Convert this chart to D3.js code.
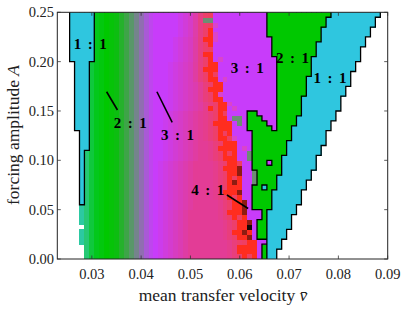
<!DOCTYPE html>
<html><head><meta charset="utf-8">
<script src="https://cdnjs.cloudflare.com/ajax/libs/d3/7.8.5/d3.min.js"></script>
<style>body{margin:0;background:#fff}svg{display:block}</style>
</head><body>
<svg id="chart" width="407" height="309"></svg>
<script>
// ---------------- data ----------------
const vDomain = [0.023, 0.09];
const aDomain = [0, 0.25];
const xTicks = [0.03, 0.04, 0.05, 0.06, 0.07, 0.08, 0.09];
const yTicks = [0, 0.05, 0.10, 0.15, 0.20, 0.25];
const colFirst = 0.023, colStep = 0.001, nCols = 68;   // velocity grid
const rowStep = 0.005, nRows = 50;                        // amplitude grid

// runs: [rowFrom, rowTo, values...]  (row r covers A in [0.005r, 0.005(r+1)])
const leftTongueRuns = [[11,21,0.0275,0.0285],[22,25,0.0275,0.0295],[26,39,0.0265,0.0295],[40,49,0.0255,0.0305]];
const dataStartRuns  = [[0,21,0.0285],[22,39,0.0295],[40,49,0.0305]];
const tealCells      = [[0.028,3],[0.028,4],[0.028,5],[0.028,7],[0.028,8],[0.028,9],[0.028,10]];
const cyanRightRuns  = [[0,1,0.0675],[2,3,0.0685],[4,5,0.0695],[6,8,0.0705],[9,10,0.0715],[11,13,0.0725],[14,15,0.0735],[16,17,0.0745],[18,20,0.0755],[21,22,0.0765],[23,25,0.0775],[26,27,0.0785],[28,29,0.0795],[30,32,0.0805],[33,34,0.0815],[35,37,0.0825],[38,39,0.0835],[40,42,0.0845],[43,44,0.0855],[45,46,0.0865],[47,48,0.0875],[49,49,0.0885]];
const cyanLeftRuns   = [[0,9,0.0655],[10,13,0.0665],[14,16,0.0675],[17,20,0.0685],[21,23,0.0695],[24,26,0.0705],[27,28,0.0715],[29,32,0.0725],[33,36,0.0735],[37,40,0.0745],[41,43,0.0755],[44,46,0.0765],[47,48,0.0775],[49,49,0.0785]];
const greenLeftRuns  = [[0,2,0.0645],[3,3,0.0655],[4,9,0.0635],[10,14,0.0625],[15,17,0.0635],[18,25,0.0625],[26,29,0.0615],[30,40,0.0675],[41,44,0.0665],[45,49,0.0655]];
const tongue3Runs    = [[26,26,0.0665,0.0675],[27,27,0.0655,0.0675],[28,28,0.0645,0.0675],[29,29,0.0635,0.0675]];
const mixStartRuns   = [[0,19,0.043],[20,29,0.044],[30,39,0.045],[40,44,0.046],[45,49,0.047]];
const mixEndRuns     = [[0,9,0.050],[10,19,0.051],[20,29,0.052],[30,49,0.053]];
const redStartRuns   = [[0,3,0.0605],[4,7,0.0595],[8,11,0.0585],[12,19,0.0575],[20,23,0.0565],[24,31,0.0555],[32,35,0.0545],[36,49,0.0535]];
const redEndRuns     = [[0,3,0.0635],[4,7,0.0625],[8,11,0.0615],[12,19,0.0605],[20,23,0.0595],[24,27,0.0585],[28,31,0.0575],[32,35,0.0565],[36,39,0.0555],[40,49,0.0545]];
const baseStopV      = [0.029, 0.0305, 0.033, 0.035, 0.037, 0.0385, 0.0395, 0.041, 0.0425];
const baseStopColor  = ['#26c874','#04c822','#00c800','#0cbe10','#3ea448','#66907a','#84789e','#a95ad6','#c83cfa'];
// special cells [v, row, kind]
const specialCells = [
  [0.053,48,'grey'],[0.054,48,'grey'],[0.059,28,'grey'],[0.060,28,'grey'],[0.060,27,'grey'],
  [0.062,20,'grey'],[0.062,21,'grey'],[0.063,15,'grey'],[0.063,16,'grey'],[0.063,17,'grey'],
  [0.059,15,'dark'],[0.060,13,'dark'],[0.060,17,'dark'],[0.060,18,'dark'],[0.061,11,'dark'],
  [0.061,10,'dark'],[0.061,9,'dark'],[0.061,5,'dark'],[0.062,4,'dark'],[0.062,7,'dark'],
  [0.062,6,'black'],
  [0.053,44,'red'],[0.053,41,'red'],[0.053,38,'red'],[0.054,34,'red'],
  [0.054,30,'red'],[0.055,27,'red'],[0.056,22,'red'],[0.057,18,'red'],[0.057,13,'red'],
  [0.058,9,'red'],[0.059,5,'red'],[0.060,1,'red'],[0.060,2,'red'],
  [0.054,47,'salmon'],[0.054,49,'salmon'],[0.054,42,'salmon'],[0.055,37,'salmon'],[0.056,33,'salmon'],
  [0.057,29,'salmon'],[0.057,25,'salmon'],[0.058,21,'salmon'],[0.059,16,'salmon'],[0.059,12,'salmon'],
  [0.060,8,'salmon'],[0.061,3,'salmon'],[0.062,0,'salmon'],[0.058,24,'salmon'],[0.060,19,'salmon'],
  [0.055,44,'mauve'],[0.056,40,'mauve'],[0.057,36,'mauve'],[0.058,31,'mauve'],[0.059,30,'mauve'],
  [0.059,24,'mauve'],[0.061,22,'mauve'],[0.056,33,'mauve'],[0.055,47,'mauve'],[0.055,45,'mauve'],
  [0.066,19,'purple'],[0.064,8,'purple'],[0.064,9,'purple'],[0.065,14,'cyan']
];
// annotations: [text, v, A] ; leader lines: [v1, A1, v2, A2]
const labels = [['1 : 1',0.0297,0.2128],['2 : 1',0.0378,0.1327],['3 : 1',0.0474,0.1206],
  ['3 : 1',0.0615,0.1885],['2 : 1',0.0707,0.1986],['1 : 1',0.0783,0.1784],['4 : 1',0.0535,0.0649]];
const leaders = [[0.0330,0.1695,0.0352,0.1510],[0.0432,0.1695,0.0463,0.1385],[0.0574,0.0649,0.0617,0.0512]];

// ---------------- drawing ----------------
const C = {cyan:'#2fc6df', green:'#00c800', purple:'#c83cfa', pink:'#e33c96', salmon:'#ef3f62',
  red:'#ff2d1f', dark:'#8e1c12', black:'#140805', grey:'#6c8e74', teal:'#2cc9a2', mauve:'#d944cc'};
const svg = d3.select('#chart');
const x = d3.scaleLinear().domain(vDomain).range([57.3, 387.7]);
const y = d3.scaleLinear().domain(aDomain).range([259, 12.3]);
const baseColor = d3.scaleLinear().domain(baseStopV).range(baseStopColor).interpolate(d3.interpolateRgb).clamp(true);

function rowsOf(runs){ const out = new Array(nRows).fill(null);
  runs.forEach(r => { for (let i=r[0]; i<=r[1]; i++) out[i] = r.length===3 ? r[2] : r.slice(2); }); return out; }
const LT = rowsOf(leftTongueRuns), DS = rowsOf(dataStartRuns), CR = rowsOf(cyanRightRuns),
  CL = rowsOf(cyanLeftRuns), GL = rowsOf(greenLeftRuns), T3 = rowsOf(tongue3Runs),
  MS = rowsOf(mixStartRuns), ME = rowsOf(mixEndRuns), RS = rowsOf(redStartRuns), RE = rowsOf(redEndRuns);
const key = (c,r) => c+'_'+r;
const colOf = v => Math.round((v - colFirst)/colStep);
const special = new Map(specialCells.map(d => [key(colOf(d[0]), d[1]), d[2]]));
const teal = new Set(tealCells.map(d => key(colOf(d[0]), d[1])));
const clamp01 = t => Math.max(0, Math.min(1, t));

const cells = []; const cls = [];
for (let r=0; r<nRows; r++){
  cls.push([]);
  for (let c=0; c<nCols; c++){
    const v = colFirst + c*colStep;
    let k = 3, col = null;
    if (LT[r] && v > LT[r][0] && v < LT[r][1]) { k = 1; col = C.cyan; }
    else if (v < DS[r]) { if (teal.has(key(c,r))) { k = 4; col = C.teal; } else { k = 0; } }
    else if (v > CR[r]) { k = 0; }
    else if (v > CL[r]) { k = 1; col = C.cyan; }
    else if (v > GL[r]) {
      if (T3[r] && v > T3[r][0] && v < T3[r][1]) { k = 3; col = C.purple; } else { k = 2; col = C.green; }
    } else {
      k = 3;
      if (v > RE[r]) col = C.purple;
      else if (v > RS[r]) col = C.red;
      else {
        const t1 = clamp01((v - MS[r])/(ME[r]-MS[r]));
        col = d3.interpolateRgb(baseColor(v), C.pink)(t1);
        const t2 = clamp01((v - (RS[r] - 0.003))/0.003);
        if (t2 > 0) col = d3.interpolateRgb(col, C.salmon)(t2);
      }
    }
    const s = special.get(key(c,r));
    if (s && k !== 0) { col = C[s]; k = (s === 'cyan') ? 1 : 3; }
    cls[r].push(k);
    if (col) cells.push({v, r, col});
  }
}

svg.append('defs').append('clipPath').attr('id','clip').append('rect')
  .attr('x', x(vDomain[0])).attr('y', y(aDomain[1])).attr('width', x(vDomain[1])-x(vDomain[0])).attr('height', y(aDomain[0])-y(aDomain[1]));
const plot = svg.append('g').attr('clip-path','url(#clip)');
plot.append('g').attr('shape-rendering','crispEdges').selectAll('rect').data(cells).join('rect')
  .attr('x', d => x(d.v - colStep/2)).attr('y', d => y((d.r+1)*rowStep))
  .attr('width', d => x(d.v + colStep/2) - x(d.v - colStep/2) + 0.4)
  .attr('height', d => y(d.r*rowStep) - y((d.r+1)*rowStep) + 0.4)
  .attr('fill', d => d.col);

// outlines of locked (1:1, 2:1) regions
const locked = k => k === 1 || k === 2;
let p = '';
for (let r=0; r<nRows; r++) for (let c=0; c<nCols; c++){
  const a = cls[r][c];
  const vR = colFirst + (c+0.5)*colStep;
  if (c+1 < nCols){ const b = cls[r][c+1];
    if (a !== b && (locked(a)||locked(b))) p += `M${x(vR)},${y(r*rowStep)}L${x(vR)},${y((r+1)*rowStep)}`; }
  if (r+1 < nRows){ const b = cls[r+1][c];
    if (a !== b && (locked(a)||locked(b))) p += `M${x(vR-colStep)},${y((r+1)*rowStep)}L${x(vR)},${y((r+1)*rowStep)}`; }
}
plot.append('path').attr('d', p).attr('fill','none').attr('stroke','#000').attr('stroke-width',1.3).attr('stroke-linecap','square');

// leaders & labels
svg.append('g').selectAll('line').data(leaders).join('line')
  .attr('x1', d => x(d[0])).attr('y1', d => y(d[1])).attr('x2', d => x(d[2])).attr('y2', d => y(d[3]))
  .attr('stroke','#000').attr('stroke-width',1.6);
svg.append('g').selectAll('text').data(labels).join('text')
  .attr('x', d => x(d[1])).attr('y', d => y(d[2])).attr('text-anchor','middle')
  .attr('font-family','Liberation Serif, serif').attr('font-weight','bold').attr('font-size',15)
  .attr('textLength', 33).attr('lengthAdjust','spacing')
  .text(d => d[0]);

// frame & ticks
const X0 = x(vDomain[0]), X1 = x(vDomain[1]), Y0 = y(aDomain[0]), Y1 = y(aDomain[1]);
svg.append('rect').attr('x',X0).attr('y',Y1).attr('width',X1-X0).attr('height',Y0-Y1)
  .attr('fill','none').attr('stroke','#222').attr('stroke-width',1);
const tk = svg.append('g').attr('stroke','#333').attr('stroke-width',0.8);
xTicks.forEach(t => { tk.append('line').attr('x1',x(t)).attr('x2',x(t)).attr('y1',Y0).attr('y2',Y0-3.5);
  tk.append('line').attr('x1',x(t)).attr('x2',x(t)).attr('y1',Y1).attr('y2',Y1+3.5); });
yTicks.forEach(t => { tk.append('line').attr('y1',y(t)).attr('y2',y(t)).attr('x1',X0).attr('x2',X0+3.5);
  tk.append('line').attr('y1',y(t)).attr('y2',y(t)).attr('x1',X1).attr('x2',X1-3.5); });
const fnt = 'Liberation Serif, serif';
svg.append('g').selectAll('text').data(xTicks).join('text')
  .attr('x', d => x(d)).attr('y', 279).attr('text-anchor','middle')
  .attr('font-family',fnt).attr('font-size',14.5).attr('fill','#222').text(d => d3.format('.2f')(d));
svg.append('g').selectAll('text').data(yTicks).join('text')
  .attr('x', 54).attr('y', d => y(d) + 5).attr('text-anchor','end')
  .attr('font-family',fnt).attr('font-size',14.5).attr('fill','#222').text(d => d3.format('.2f')(d));
const xl = svg.append('text').attr('x', 223).attr('y', 301).attr('text-anchor','middle')
  .attr('font-family',fnt).attr('font-size',17.5).attr('fill','#222');
xl.append('tspan').text('mean transfer velocity ');
xl.append('tspan').attr('font-style','italic').text('v\u0304');
const yl = svg.append('text').attr('transform','translate(18.5,135) rotate(-90)').attr('text-anchor','middle')
  .attr('font-family',fnt).attr('font-size',17.5).attr('fill','#222');
yl.append('tspan').text('forcing amplitude ');
yl.append('tspan').attr('font-style','italic').text('A');
</script>
</body></html>
